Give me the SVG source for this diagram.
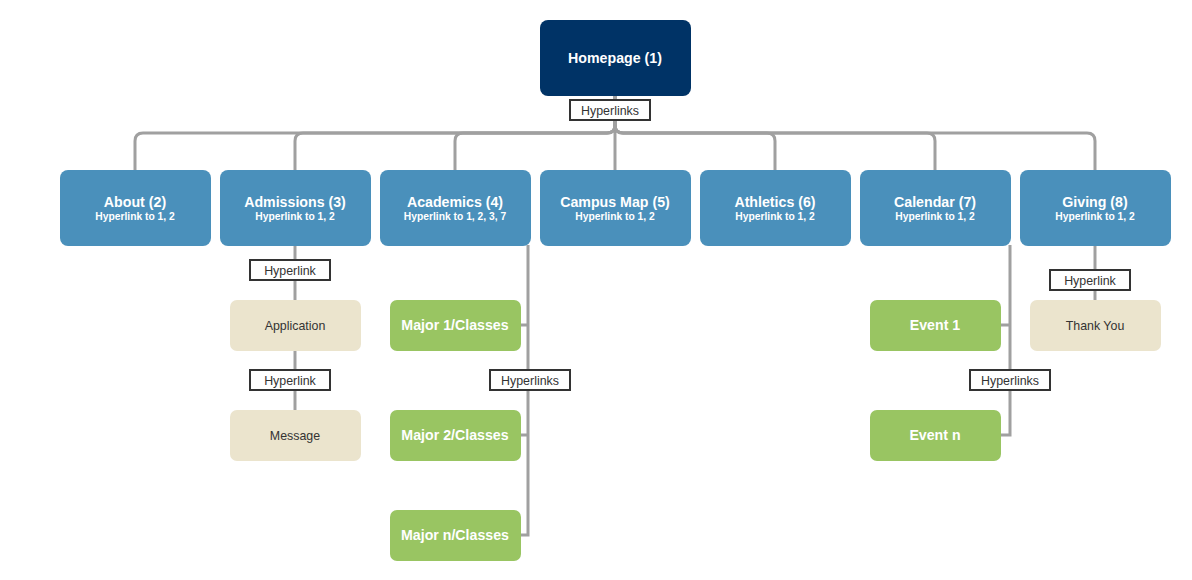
<svg xmlns="http://www.w3.org/2000/svg" width="1192" height="580" viewBox="0 0 1192 580">
<style>
.conn{fill:none;stroke:#a0a0a0;stroke-width:3}
.top{fill:#003366}
.l2{fill:#4a90bb}
.green{fill:#99c562}
.beige{fill:#ebe4cd}
.lbl rect{fill:#fff;stroke:#333;stroke-width:2}
text{font-family:"Liberation Sans",Arial,sans-serif;text-anchor:middle}
.tw{fill:#fff;font-weight:bold;font-size:14.2px}
.ts{fill:#fff;font-weight:bold;font-size:10.3px}
.tl{fill:#333;font-size:12.4px}
.tb{fill:#333;font-size:12.4px}
</style>
<g id="connectors">
<path class="conn" d="M615,96 V125 Q615,133 607,133 H143 Q135,133 135,141 V170"/>
<path class="conn" d="M615,96 V125 Q615,133 607,133 H303 Q295,133 295,141 V170"/>
<path class="conn" d="M615,96 V125 Q615,133 607,133 H463 Q455,133 455,141 V170"/>
<path class="conn" d="M615,96 V170"/>
<path class="conn" d="M615,96 V125 Q615,133 623,133 H767 Q775,133 775,141 V170"/>
<path class="conn" d="M615,96 V125 Q615,133 623,133 H927 Q935,133 935,141 V170"/>
<path class="conn" d="M615,96 V125 Q615,133 623,133 H1087 Q1095,133 1095,141 V170"/>
<path class="conn" d="M295,245 V410"/>
<path class="conn" d="M528,245 V535 H521 M528,325 H521 M528,435 H521"/>
<path class="conn" d="M1010,245 V435 H1001 M1010,325 H1001"/>
<path class="conn" d="M1095,245 V300"/>
<g class="lbl">
<rect x="570" y="100" width="80" height="20"/><text class="tl" x="610" y="114.5">Hyperlinks</text>
<rect x="250" y="260" width="80" height="20"/><text class="tl" x="290" y="274.5">Hyperlink</text>
<rect x="250" y="370" width="80" height="20"/><text class="tl" x="290" y="384.5">Hyperlink</text>
<rect x="490" y="370" width="80" height="20"/><text class="tl" x="530" y="384.5">Hyperlinks</text>
<rect x="970" y="370" width="80" height="20"/><text class="tl" x="1010" y="384.5">Hyperlinks</text>
<rect x="1050" y="270" width="80" height="20"/><text class="tl" x="1090" y="284.5">Hyperlink</text>
</g>
</g>
<g id="homepage"><rect class="top" x="540" y="20" width="151" height="76" rx="8"/><text class="tw" x="615" y="63">Homepage (1)</text></g>
<g id="about"><rect class="l2" x="60" y="170" width="151" height="76" rx="8"/><text class="tw" x="135" y="207">About (2)</text><text class="ts" x="135" y="220">Hyperlink to 1, 2</text></g>
<g id="admissions"><rect class="l2" x="220" y="170" width="151" height="76" rx="8"/><text class="tw" x="295" y="207">Admissions (3)</text><text class="ts" x="295" y="220">Hyperlink to 1, 2</text></g>
<g id="academics"><rect class="l2" x="380" y="170" width="151" height="76" rx="8"/><text class="tw" x="455" y="207">Academics (4)</text><text class="ts" x="455" y="220">Hyperlink to 1, 2, 3, 7</text></g>
<g id="campusmap"><rect class="l2" x="540" y="170" width="151" height="76" rx="8"/><text class="tw" x="615" y="207">Campus Map (5)</text><text class="ts" x="615" y="220">Hyperlink to 1, 2</text></g>
<g id="athletics"><rect class="l2" x="700" y="170" width="151" height="76" rx="8"/><text class="tw" x="775" y="207">Athletics (6)</text><text class="ts" x="775" y="220">Hyperlink to 1, 2</text></g>
<g id="calendar"><rect class="l2" x="860" y="170" width="151" height="76" rx="8"/><text class="tw" x="935" y="207">Calendar (7)</text><text class="ts" x="935" y="220">Hyperlink to 1, 2</text></g>
<g id="giving"><rect class="l2" x="1020" y="170" width="151" height="76" rx="8"/><text class="tw" x="1095" y="207">Giving (8)</text><text class="ts" x="1095" y="220">Hyperlink to 1, 2</text></g>
<g id="application"><rect class="beige" x="230" y="300" width="131" height="51" rx="7"/><text class="tb" x="295" y="329.5">Application</text></g>
<g id="message"><rect class="beige" x="230" y="410" width="131" height="51" rx="7"/><text class="tb" x="295" y="439.5">Message</text></g>
<g id="major1"><rect class="green" x="390" y="300" width="131" height="51" rx="7"/><text class="tw" x="455" y="330">Major 1/Classes</text></g>
<g id="major2"><rect class="green" x="390" y="410" width="131" height="51" rx="7"/><text class="tw" x="455" y="440">Major 2/Classes</text></g>
<g id="majorn"><rect class="green" x="390" y="510" width="131" height="51" rx="7"/><text class="tw" x="455" y="540">Major n/Classes</text></g>
<g id="event1"><rect class="green" x="870" y="300" width="131" height="51" rx="7"/><text class="tw" x="935" y="330">Event 1</text></g>
<g id="eventn"><rect class="green" x="870" y="410" width="131" height="51" rx="7"/><text class="tw" x="935" y="440">Event n</text></g>
<g id="thankyou"><rect class="beige" x="1030" y="300" width="131" height="51" rx="7"/><text class="tb" x="1095" y="329.5">Thank You</text></g>
</svg>
